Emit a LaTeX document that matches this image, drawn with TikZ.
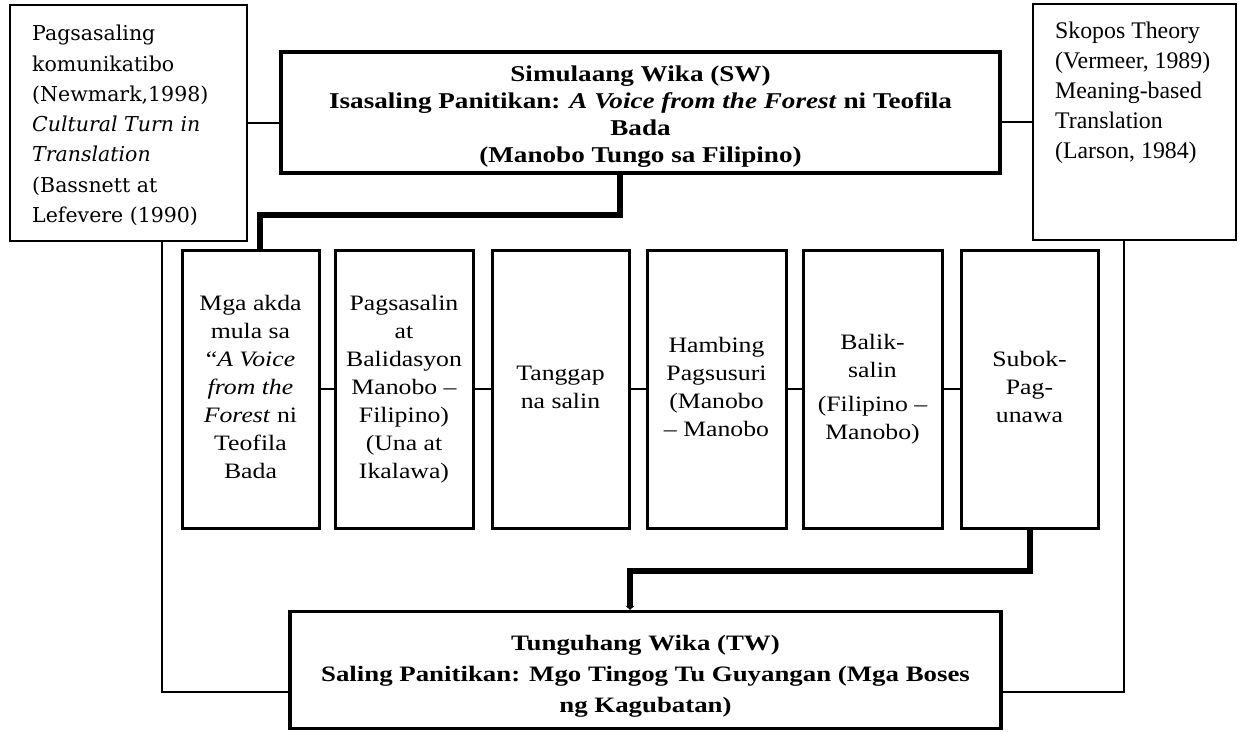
\documentclass[tikz,border=0pt]{standalone}
\usepackage{fontspec}
\usepackage{graphicx}
\setmainfont{Liberation Serif}
\newfontfamily\sidefont{DejaVu Serif}
\usetikzlibrary{arrows.meta}
\newcommand{\widetext}[2]{\scalebox{#1}[1]{\begin{tabular}{@{}c@{}}#2\end{tabular}}}
\begin{document}
\begin{tikzpicture}[x=1pt,y=-1pt,
  sidebox/.style={draw,line width=2pt,inner sep=0pt,rectangle},
  mainbox/.style={draw,line width=3.5pt,inner sep=0pt,rectangle,align=center,
     font=\bfseries\fontsize{22.6}{27}\selectfont},
  stepbox/.style={draw,line width=3pt,inner sep=0pt,rectangle,align=center,
     minimum height=278pt,font=\fontsize{22}{28}\selectfont},
  conn/.style={line width=2pt},
  thickconn/.style={line width=6pt},
  sidetext/.style={inner sep=0pt,anchor=north west,align=left}
]
\useasboundingbox (0,0) rectangle (1239,732);
% side boxes
\node[sidebox,minimum width=237pt,minimum height=236pt] (lbox) at (128.5,123) {};
\node[sidebox,minimum width=203pt,minimum height=236pt] (rbox) at (1134.5,122) {};
\node[sidetext,font=\sidefont\fontsize{20.5}{30.3}\selectfont] (ltext) at (32,25)
 {Pagsasaling\\ komunikatibo\\ (Newmark,1998)\\ \textit{Cultural Turn in}\\ \textit{Translation}\\ (Bassnett at\\ Lefevere (1990)};
\node[sidetext,font=\fontsize{23.8}{30}\selectfont] (rtext) at (1055,22)
 {Skopos Theory\\ (Vermeer, 1989)\\ Meaning-based\\ Translation\\ (Larson, 1984)};
% main boxes
\node[mainbox,minimum width=719pt,minimum height=121pt] (top) at (640.5,112.5)
 {\raisebox{-4pt}[\height][\depth]{\widetext{1.2}{Simulaang Wika (SW)\\ Isasaling Panitikan: \textit{A Voice from the Forest} ni Teofila\\ Bada\\ (Manobo Tungo sa Filipino)}}};
\node[mainbox,minimum width=711pt,minimum height=117pt,font=\bfseries\fontsize{22}{31}\selectfont] (bot) at (645.5,670)
 {\raisebox{-5pt}[\height][\depth]{\widetext{1.22}{Tunguhang Wika (TW)\\ Saling Panitikan: Mgo Tingog Tu Guyangan (Mga Boses\\ ng Kagubatan)}}};
% step boxes
\node[stepbox,minimum width=137pt] (s1) at (250.5,389)
 {\widetext{1.17}{Mga akda\\ mula sa\\ “\textit{A Voice}\\ \textit{from the}\\ \textit{Forest} ni\\ Teofila\\ Bada}};
\node[stepbox,minimum width=138pt] (s2) at (404,389)
 {\widetext{1.17}{Pagsasalin\\ at\\ Balidasyon\\ Manobo –\\ Filipino)\\ (Una at\\ Ikalawa)}};
\node[stepbox,minimum width=137pt] (s3) at (560.5,389)
 {\widetext{1.17}{Tanggap\\ na salin}};
\node[stepbox,minimum width=139pt] (s4) at (716.5,389)
 {\widetext{1.17}{Hambing\\ Pagsusuri\\ (Manobo\\ – Manobo}};
\node[stepbox,minimum width=139pt] (s5) at (872.5,389)
 {\widetext{1.17}{Balik-\\ salin\\[6pt] (Filipino –\\ Manobo)}};
\node[stepbox,minimum width=137pt] (s6) at (1029.5,389)
 {\widetext{1.17}{Subok-\\ Pag-\\ unawa}};
% connectors
\draw[conn] (lbox.east) -- (lbox.east -| top.west);
\draw[conn] (top.east |- rbox.west) -- (rbox.west);
\foreach \a/\b in {s1/s2,s2/s3,s3/s4,s4/s5,s5/s6}
  \draw[conn] (\a.east) -- (\b.west);
\coordinate (tdrop) at (620,215);
\coordinate (s1in) at (260,215);
\draw[thickconn] (top.south -| tdrop) -- (tdrop) -- (s1in) -- (s1.north -| s1in);
\coordinate (bturn) at (630,571);
\draw[thickconn,-{Stealth[length=4pt,width=9pt]}] (s6.south) |- (bturn) -- (bot.north -| bturn);
\coordinate (lc) at (162,692);
\coordinate (rc) at (1124,692);
\draw[conn] (lbox.south -| lc) -- (lc) -- (lc -| bot.west);
\draw[conn] (rbox.south -| rc) -- (rc) -- (rc -| bot.east);
\end{tikzpicture}
\end{document}
